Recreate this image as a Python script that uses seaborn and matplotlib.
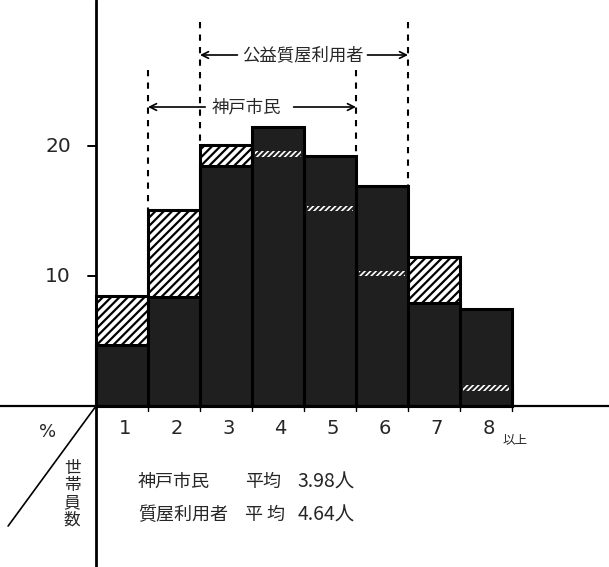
import numpy as np
import pandas as pd
import matplotlib
matplotlib.use("Agg")
import matplotlib.pyplot as plt
import seaborn as sns

# ---- data ----
categories = ["1", "2", "3", "4", "5", "6", "7", "8"]
kobe_citizens = [8.5, 15.1, 20.1, 19.6, 15.4, 10.4, 11.5, 1.6]     # 神戸市民 (%)
pawn_users = [4.7, 8.4, 18.5, 21.5, 19.2, 16.9, 7.9, 7.5]          # 公益質屋利用者 (%)
y_ticks = [10, 20]
kobe_label = "神戸市民"
users_label = "公益質屋利用者"
kobe_mean = "3.98"
users_mean = "4.64"

sns.set_theme(style="white")
plt.rcParams["font.family"] = ["Noto Sans CJK JP", "DejaVu Sans"]
plt.rcParams["hatch.linewidth"] = 1.6

df = pd.DataFrame({"size": categories, "kobe": kobe_citizens, "users": pawn_users})

fig = plt.figure(figsize=(6.09, 5.67), dpi=100)
ax = fig.add_axes([0, 0, 1, 1])

# Kobe citizens: hatched bars
sns.barplot(data=df, x="size", y="kobe", width=1.0, color="white", edgecolor="black",
            linewidth=2.2, hatch="////", ax=ax, zorder=1, saturation=1)
n_kobe = len(ax.patches)
# Pawnshop users: dark bars
sns.barplot(data=df, x="size", y="users", width=1.0, color="#1f1f1f", edgecolor="black",
            linewidth=2.2, ax=ax, zorder=2, saturation=1)
for p in ax.patches[:n_kobe]:
    p.set_zorder(1)
for p in ax.patches[n_kobe:]:
    p.set_zorder(2)

# thin hatched strips where Kobe value lies inside the dark bar
for i, (k, u) in enumerate(zip(kobe_citizens, pawn_users)):
    if k < u:
        ax.bar(i, 0.42, bottom=k - 0.42, width=0.88, color="white", edgecolor="#1f1f1f",
               hatch="//////", zorder=3, linewidth=0)

ax.set_xlim(-2.346, 9.365)
ax.set_ylim(-12.38, 31.23)
for s in ax.spines.values():
    s.set_visible(False)
ax.set_xticks([])
ax.set_yticks([])
ax.set_xlabel("")
ax.set_ylabel("")

# axis lines
ax.axhline(0, color="black", lw=1.6, zorder=5)
ax.axvline(-0.5, color="black", lw=2.0, zorder=5)

# y ticks
for t in y_ticks:
    ax.plot([-0.65, -0.5], [t, t], color="black", lw=1.4, zorder=5)
    ax.text(-0.98, t, str(t), ha="right", va="center", fontsize=14.5, family="DejaVu Sans")
# x minor tick marks at bar edges
for e in np.arange(0.5, 8.0, 1.0):
    ax.plot([e, e], [0, -0.35], color="black", lw=1.0, zorder=5)

# x labels
for i, c in enumerate(categories):
    ax.text(i + 0.05, -1.75, c, ha="center", va="center", fontsize=14, family="DejaVu Sans")
ax.text(7.55, -2.6, "以上", ha="center", va="center", fontsize=9)

# corner label
ax.plot([-0.5, -2.19], [0, -9.23], color="black", lw=1.2)
ax.text(-1.44, -2.0, "%", ha="center", va="center", fontsize=13, family="DejaVu Sans")
ax.text(-0.96, -6.8, "世\n帯\n員\n数", ha="center", va="center", fontsize=12, linespacing=1.0)

# dashed range lines
dash = dict(color="black", lw=1.5, ls=(0, (3, 3)), zorder=0)
ax.plot([0.5, 0.5], [25.85, kobe_citizens[1]], **dash)
ax.plot([4.5, 4.5], [25.85, pawn_users[4]], **dash)
ax.plot([1.5, 1.5], [29.5, kobe_citizens[2]], **dash)
ax.plot([5.5, 5.5], [29.5, pawn_users[5]], **dash)

arrow = dict(arrowstyle="->", color="black", lw=1.2, shrinkA=0, shrinkB=0)
# users range arrow
ax.annotate("", xy=(1.5, 27.0), xytext=(2.22, 27.0), arrowprops=arrow)
ax.annotate("", xy=(5.5, 27.0), xytext=(4.72, 27.0), arrowprops=arrow)
ax.text(3.47, 27.0, users_label, ha="center", va="center", fontsize=12.5)
# kobe range arrow
ax.annotate("", xy=(0.5, 23.0), xytext=(1.6, 23.0), arrowprops=arrow)
ax.annotate("", xy=(4.5, 23.0), xytext=(3.3, 23.0), arrowprops=arrow)
ax.text(2.4, 23.0, kobe_label, ha="center", va="center", fontsize=12.5)

# means
ax.text(0.31, -5.85, kobe_label, ha="left", va="center", fontsize=13)
ax.text(2.37, -5.85, "平均", ha="left", va="center", fontsize=13)
ax.text(3.37, -5.85, kobe_mean + "人", ha="left", va="center", fontsize=14)
ax.text(0.31, -8.38, "質屋利用者", ha="left", va="center", fontsize=13)
ax.text(2.37, -8.38, "平 均", ha="left", va="center", fontsize=13)
ax.text(3.37, -8.38, users_mean + "人", ha="left", va="center", fontsize=14)

fig.savefig("out.png", dpi=100)
